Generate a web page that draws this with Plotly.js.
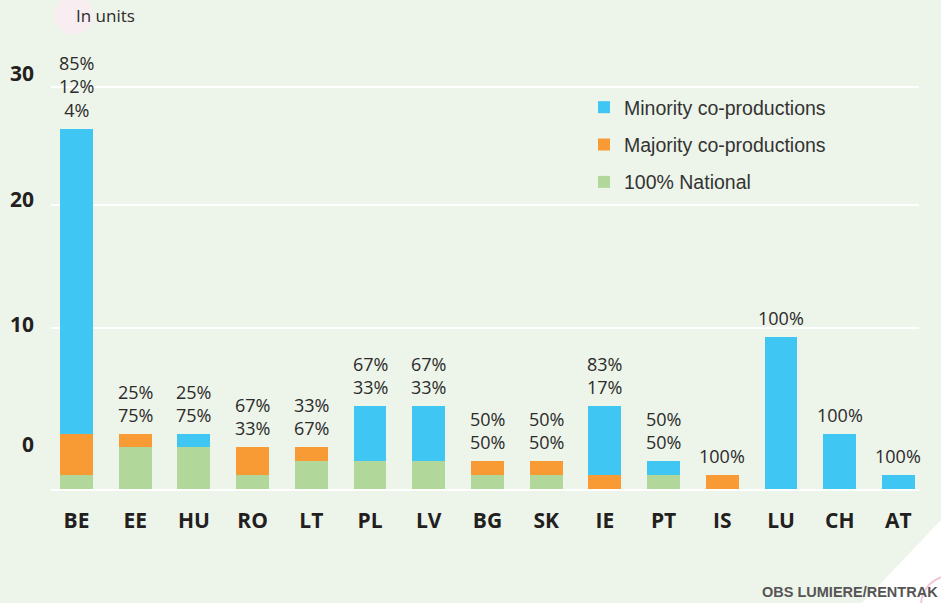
<!DOCTYPE html>
<html>
<head>
<meta charset="utf-8">
<script src="https://cdn.plot.ly/plotly-3.0.1.min.js"></script>
<style>
  html, body { margin: 0; padding: 0; background: #edf4e9; }
  #chart { width: 941px; height: 603px; }
</style>
</head>
<body>
<div id="chart"></div>
<script>
// ---- data (units) ----
const categories = ['BE','EE','HU','RO','LT','PL','LV','BG','SK','IE','PT','IS','LU','CH','AT'];
const minority   = [22, 0, 1, 0, 0, 4, 4, 0, 0, 5, 1, 0, 11, 4, 1];
const majority   = [ 3, 1, 0, 2, 1, 0, 0, 1, 1, 1, 0, 1, 0, 0, 0];
const national   = [ 1, 3, 3, 1, 2, 2, 2, 1, 1, 0, 1, 0, 0, 0, 0];
const seriesNames = ['Minority co-productions', 'Majority co-productions', '100% National'];
const yTickVals  = [3.2, 11.9, 20.9, 30.0];
const yTickText  = ['0', '10', '20', '30'];
const yGridVals  = [11.6, 20.5, 29.0];

// ---- layout geometry ----
const W = 941, H = 603;
const M = { l: 51, r: 22, t: 40, b: 114 };
const plotW = W - M.l - M.r, plotH = H - M.t - M.b;
const px = x => (x - M.l) / plotW;
const py = y => (H - M.b - y) / plotH;
const yMax = 32.42;

const colors = { minority: '#3fc6f3', majority: '#f99b35', national: '#b1d79b' };

const traces = [
  { name: seriesNames[2], y: national, color: colors.national, group: 'c', rank: 3 },
  { name: seriesNames[1], y: majority, color: colors.majority, group: 'b', rank: 2 },
  { name: seriesNames[0], y: minority, color: colors.minority, group: 'a', rank: 1 }
].map(s => ({
  type: 'bar', x: categories, y: s.y, name: s.name, legendgroup: s.group, legendrank: s.rank,
  marker: { color: s.color, line: { width: 0 } },
  hoverinfo: 'x+y+name'
}));
// invisible helper trace so the gridline axis (y2) is drawn
traces.push({
  type: 'scatter', mode: 'markers', x: categories, y: categories.map(() => null),
  yaxis: 'y2', showlegend: false, hoverinfo: 'skip', marker: { opacity: 0 }
});

// percentage labels above each bar
const annotations = categories.map((c, i) => {
  const total = minority[i] + majority[i] + national[i];
  const parts = [minority[i], majority[i], national[i]]
    .filter(v => v > 0)
    .map(v => Math.round(100 * v / total) + '%');
  return {
    x: c, y: total, xref: 'x', yref: 'y', text: parts.join('<br>'),
    showarrow: false, yanchor: 'bottom', yshift: 5,
    font: { family: 'Open Sans, sans-serif', size: 18, color: '#2b2b2b' }
  };
});
annotations.push({
  xref: 'paper', yref: 'paper', x: px(74), y: py(15), xanchor: 'left', yanchor: 'middle',
  text: 'In units', showarrow: false,
  font: { family: 'Open Sans, sans-serif', size: 17, color: '#2b2b2b' }
});
annotations.push({
  xref: 'paper', yref: 'paper', x: px(940), y: py(592), xanchor: 'right', yanchor: 'middle',
  text: '<b>OBS LUMIERE/RENTRAK</b>', showarrow: false,
  font: { family: 'Liberation Sans, Arial, sans-serif', size: 14.5, color: '#555555' }
});

const shapes = [
  { type: 'circle', xref: 'paper', yref: 'paper', layer: 'below',
    x0: px(54), x1: px(94), y0: py(35), y1: py(-4),
    fillcolor: '#f8edf1', line: { width: 0 } },
  { type: 'path', xref: 'paper', yref: 'paper', layer: 'below',
    path: `M ${px(941)} ${py(520)} L ${px(941)} ${py(603)} L ${px(862)} ${py(603)} Z`,
    fillcolor: '#ffffff', line: { width: 0 } },
  { type: 'circle', xref: 'paper', yref: 'paper', layer: 'below',
    x0: px(921), x1: px(979), y0: py(576), y1: py(634),
    fillcolor: 'rgba(0,0,0,0)', line: { color: '#efcbd8', width: 2 } }
];

const layout = {
  width: W, height: H,
  margin: M,
  paper_bgcolor: '#edf4e9',
  plot_bgcolor: '#edf4e9',
  barmode: 'stack',
  bargap: 0.44,
  showlegend: true,
  legend: {
    x: px(584), y: py(88), xanchor: 'left', yanchor: 'top',
    traceorder: 'grouped', tracegroupgap: 9,
    bgcolor: 'rgba(0,0,0,0)',
    font: { family: 'Liberation Sans, Arial, sans-serif', size: 19.5, color: '#333333' }
  },
  xaxis: {
    type: 'category', range: [-0.434, 14.35],
    showgrid: false, zeroline: false,
    showline: true, linecolor: '#ffffff', linewidth: 2, layer: 'below traces',
    ticks: '', ticklabelstandoff: 12,
    tickfont: { family: 'Open Sans, sans-serif', size: 21, color: '#231f20', weight: 'bold' }
  },
  yaxis: {
    range: [0, yMax], showgrid: false, zeroline: false, showline: false,
    tickmode: 'array', tickvals: yTickVals, ticktext: yTickText,
    ticks: '', ticklabelstandoff: 16,
    tickfont: { family: 'Open Sans, sans-serif', size: 21, color: '#231f20', weight: 'bold' }
  },
  yaxis2: {
    overlaying: 'y', range: [0, yMax], showgrid: true, gridcolor: '#ffffff', gridwidth: 2,
    tickmode: 'array', tickvals: yGridVals, showticklabels: false, ticks: '',
    zeroline: false, showline: false
  },
  annotations: annotations,
  shapes: shapes
};

Plotly.newPlot('chart', traces, layout, { displayModeBar: false, staticPlot: true });
</script>
</body>
</html>
